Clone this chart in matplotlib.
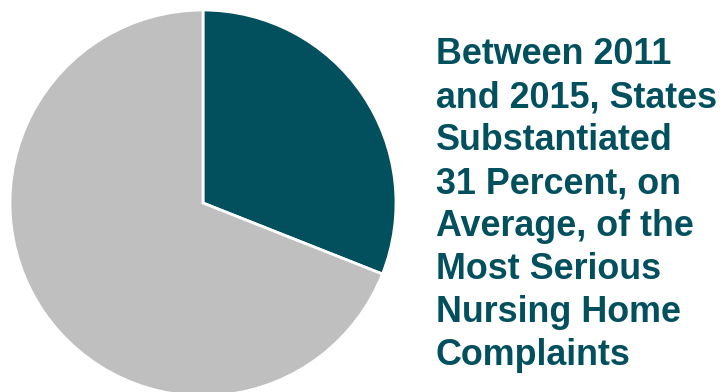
import matplotlib
matplotlib.use("Agg")
import matplotlib.pyplot as plt

# share of the most serious complaints substantiated, percent
labels = ["Substantiated", "Not substantiated"]
shares = [31, 69]
colors = ["#02505E", "#BFBFBF"]

caption = ("Between 2011\nand 2015, States\nSubstantiated\n31 Percent, on\n"
           "Average, of the\nMost Serious\nNursing Home\nComplaints")

fig = plt.figure(figsize=(7.24, 3.92), dpi=100)
ax = fig.add_axes([10 / 724, -4 / 392, 386 / 724, 386 / 392])
ax.pie(shares, colors=colors, startangle=90, counterclock=False,
       wedgeprops=dict(edgecolor="white", linewidth=2))
ax.set_xlim(-1, 1)
ax.set_ylim(-1, 1)
ax.set_aspect("equal")

fig.text(0.602, 0.905, caption, ha="left", va="top",
         fontsize=25.8, fontweight="bold", color="#02505E",
         family="Liberation Sans", linespacing=1.295)

fig.savefig("out.png", dpi=100)
